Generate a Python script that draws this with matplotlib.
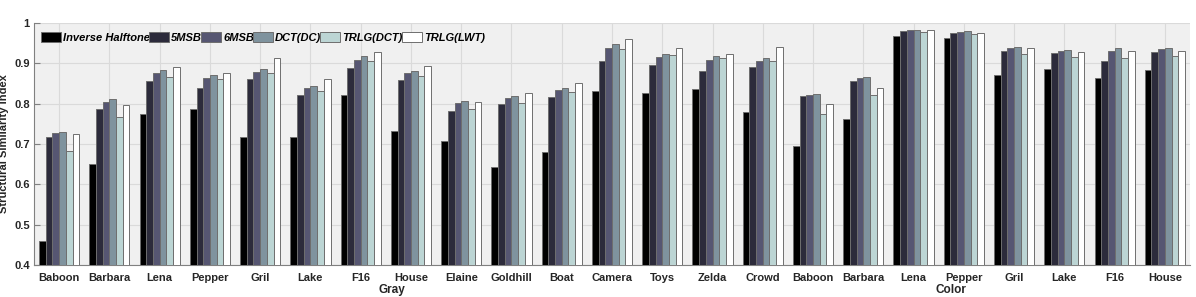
import numpy as np
import matplotlib
matplotlib.use('Agg')
import matplotlib.pyplot as plt

plt.rcParams['font.family'] = ['Liberation Sans', 'DejaVu Sans']

images = ['Baboon', 'Barbara', 'Lena', 'Pepper', 'Gril', 'Lake', 'F16', 'House',
          'Elaine', 'Goldhill', 'Boat', 'Camera', 'Toys', 'Zelda', 'Crowd',
          'Baboon', 'Barbara', 'Lena', 'Pepper', 'Gril', 'Lake', 'F16', 'House']

methods = ['Inverse Halftone', '5MSB', '6MSB', 'DCT(DC)', 'TRLG(DCT)', 'TRLG(LWT)']

inverse_halftone = [0.460, 0.651, 0.774, 0.787, 0.717, 0.717, 0.821, 0.733,
                    0.708, 0.643, 0.679, 0.832, 0.826, 0.837, 0.780,
                    0.694, 0.763, 0.967, 0.963, 0.872, 0.887, 0.863, 0.883]
msb5 = [0.718, 0.786, 0.855, 0.840, 0.861, 0.821, 0.888, 0.859,
        0.782, 0.798, 0.817, 0.907, 0.896, 0.882, 0.890,
        0.820, 0.857, 0.979, 0.975, 0.930, 0.926, 0.907, 0.929]
msb6 = [0.727, 0.804, 0.876, 0.864, 0.878, 0.838, 0.908, 0.875,
        0.801, 0.814, 0.834, 0.937, 0.915, 0.909, 0.907,
        0.821, 0.864, 0.982, 0.978, 0.937, 0.931, 0.931, 0.936]
dct_dc = [0.729, 0.811, 0.883, 0.871, 0.885, 0.844, 0.917, 0.880,
          0.807, 0.819, 0.840, 0.948, 0.924, 0.918, 0.913,
          0.823, 0.865, 0.982, 0.979, 0.940, 0.933, 0.938, 0.939]
trlg_dct = [0.683, 0.766, 0.866, 0.861, 0.875, 0.831, 0.907, 0.868,
            0.788, 0.801, 0.828, 0.936, 0.920, 0.912, 0.905,
            0.774, 0.821, 0.978, 0.972, 0.922, 0.915, 0.913, 0.918]
trlg_lwt = [0.726, 0.796, 0.890, 0.876, 0.912, 0.860, 0.929, 0.893,
            0.804, 0.826, 0.851, 0.960, 0.938, 0.924, 0.940,
            0.798, 0.839, 0.983, 0.974, 0.937, 0.928, 0.930, 0.930]

series = [inverse_halftone, msb5, msb6, dct_dc, trlg_dct, trlg_lwt]
colors = ['#000000', '#2c2b3b', '#565672', '#7f939e', '#bcd5d4', '#ffffff']

fig = plt.figure(figsize=(11.96, 2.97), dpi=100)
ax = fig.add_axes([34 / 1196, 1 - 265 / 297, 1156 / 1196, 242 / 297])
ax.set_facecolor('#f0f0f0')

x = np.arange(len(images))
n = len(series)
width = 0.8 / n
for i, (vals, c) in enumerate(zip(series, colors)):
    ax.bar(x + (i - (n - 1) / 2) * width, vals, width, color=c,
           edgecolor='#6e6e6e', linewidth=0.7, label=methods[i], zorder=3)

ax.set_xlim(-0.5, len(images) - 0.5)
ax.set_ylim(0.4, 1.0)
ax.set_yticks([0.4, 0.5, 0.6, 0.7, 0.8, 0.9, 1.0])
ax.set_yticklabels(['0.4', '0.5', '0.6', '0.7', '0.8', '0.9', '1'])
ax.set_xticks(x)
ax.set_xticklabels(images)
ax.grid(True, color='#dadada', linewidth=0.8, zorder=0)
ax.set_axisbelow(True)

for side in ['top', 'right']:
    ax.spines[side].set_visible(False)
for side in ['left', 'bottom']:
    ax.spines[side].set_color('#808080')
    ax.spines[side].set_linewidth(0.8)

ax.tick_params(axis='y', direction='in', length=4, color='#808080',
               labelsize=8, pad=3)
ax.tick_params(axis='x', length=0, labelsize=8, pad=6)
for lbl in ax.get_xticklabels() + ax.get_yticklabels():
    lbl.set_fontweight('bold')
    lbl.set_color('#262626')

ax.set_ylabel('Structural Similarity Index', fontsize=8, fontweight='bold',
              color='#262626', labelpad=4)

# group captions under the tick labels
ax.text(0.31, -0.103, 'Gray', transform=ax.transAxes, ha='center', va='center',
        fontsize=8.5, fontweight='bold', color='#262626')
ax.text(0.793, -0.103, 'Color', transform=ax.transAxes, ha='center', va='center',
        fontsize=8.5, fontweight='bold', color='#262626')

leg = ax.legend(loc='upper left', bbox_to_anchor=(0.0, 0.99), ncol=6,
                frameon=False, handlelength=1.8, handleheight=0.95,
                handletextpad=0.2, columnspacing=-0.1, borderaxespad=0.2,
                prop={'size': 8, 'weight': 'bold', 'style': 'italic'})

fig.savefig('out.png', dpi=100)
